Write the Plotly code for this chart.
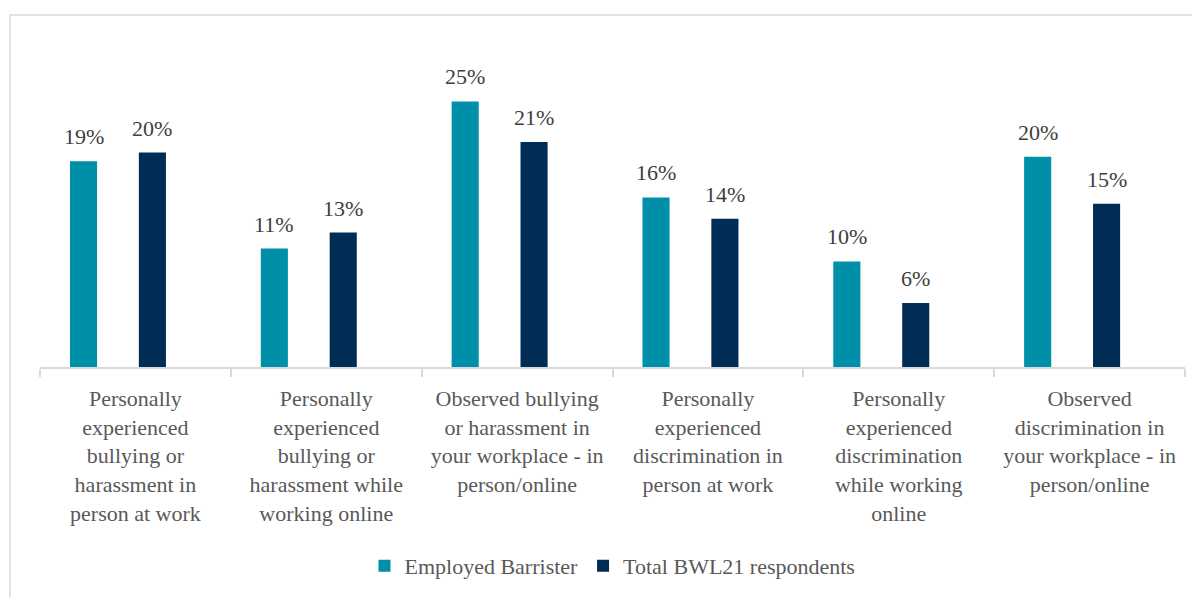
import plotly.graph_objects as go

categories = [
    "Personally<br>experienced<br>bullying or<br>harassment in<br>person at work",
    "Personally<br>experienced<br>bullying or<br>harassment while<br>working online",
    "Observed bullying<br>or harassment in<br>your workplace - in<br>person/online",
    "Personally<br>experienced<br>discrimination in<br>person at work",
    "Personally<br>experienced<br>discrimination<br>while working<br>online",
    "Observed<br>discrimination in<br>your workplace - in<br>person/online",
]
employed = [19.3, 11.1, 24.9, 15.9, 9.9, 19.7]
total = [20.1, 12.6, 21.1, 13.9, 6.0, 15.3]
employed_labels = ["19%", "11%", "25%", "16%", "10%", "20%"]
total_labels = ["20%", "13%", "21%", "14%", "6%", "15%"]
series_names = ["Employed Barrister", "Total BWL21 respondents"]

TEAL = "#008FA8"
NAVY = "#002D56"
FONT = "Liberation Serif"
FS = 22

fig = go.Figure()
bar_w = 0.142
offsets = [-0.343, 0.018]
for name, vals, col, off in zip(series_names, [employed, total], [TEAL, NAVY], offsets):
    fig.add_trace(go.Bar(
        x=categories, y=vals, name=name, marker_color=col,
        marker_line_width=0, width=bar_w, offset=off,
    ))

# value labels
px_per_cat = 1145 / 6
for vals, labs, off in zip([employed, total], [employed_labels, total_labels], offsets):
    for c, v, lab in zip(categories, vals, labs):
        fig.add_annotation(
            x=c, y=v, xref="x", yref="y", text=lab, showarrow=False,
            xshift=(off + bar_w / 2) * px_per_cat, yshift=10, yanchor="bottom",
            font=dict(family=FONT, size=FS, color="#404040"),
        )

fig.add_shape(type="rect", xref="paper", yref="paper",
              x0=-0.0262, x1=1.03, y0=-0.8, y1=1.0997,
              line=dict(color="#D9D9D9", width=1.5), fillcolor="rgba(0,0,0,0)", layer="below")

fig.update_layout(
    width=1192, height=589,
    margin=dict(l=32, r=15, t=39, b=229),
    paper_bgcolor="white", plot_bgcolor="white",
    barmode="overlay",
    font=dict(family=FONT, size=FS, color="#595959"),
    legend=dict(orientation="h", x=0.5, xanchor="center", y=-0.617, yanchor="middle",
                font=dict(family=FONT, size=FS, color="#595959"), itemwidth=30,
                traceorder="normal"),
    xaxis=dict(
        showline=True, linecolor="#D9D9D9", linewidth=1.5,
        ticks="outside", tickson="boundaries", ticklen=8, tickcolor="#D9D9D9", tickwidth=1.5,
        range=[-0.5, 5.5], showgrid=False, ticklabelstandoff=11,
        tickfont=dict(family=FONT, size=FS, color="#595959"),
    ),
    yaxis=dict(range=[0, 30], visible=False, showgrid=False),
)

fig.write_html("out.html")
